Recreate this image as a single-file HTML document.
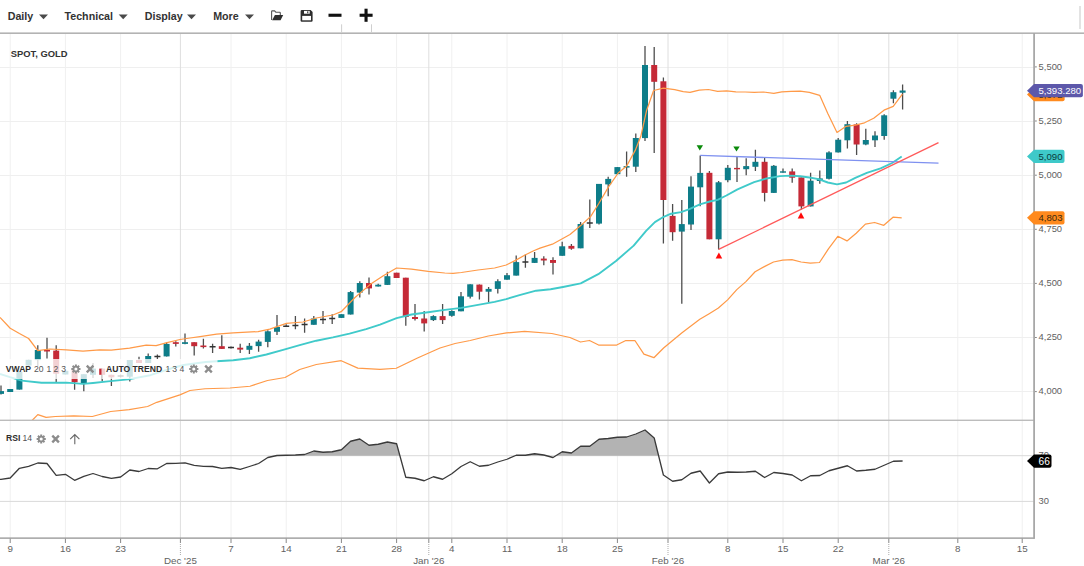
<!DOCTYPE html>
<html><head><meta charset="utf-8"><title>Spot Gold Chart</title>
<style>
html,body{margin:0;padding:0;background:#fff;width:1084px;height:566px;overflow:hidden}
svg{display:block}
</style></head><body>
<svg width="1084" height="566" viewBox="0 0 1084 566">
<defs><clipPath id="mainclip"><rect x="0" y="34" width="1033" height="386.3"/></clipPath></defs>
<g stroke="#efefef" stroke-width="1" fill="none">
<line x1="0" y1="67.5" x2="1034" y2="67.5"/>
<line x1="0" y1="121.5" x2="1034" y2="121.5"/>
<line x1="0" y1="175.5" x2="1034" y2="175.5"/>
<line x1="0" y1="229.5" x2="1034" y2="229.5"/>
<line x1="0" y1="283.5" x2="1034" y2="283.5"/>
<line x1="0" y1="337.5" x2="1034" y2="337.5"/>
<line x1="0" y1="391.5" x2="1034" y2="391.5"/>
</g>
<g stroke="#f0f0f0" stroke-width="1">
<line x1="10.2" y1="34" x2="10.2" y2="538"/>
<line x1="65.4" y1="34" x2="65.4" y2="538"/>
<line x1="120.6" y1="34" x2="120.6" y2="538"/>
<line x1="231" y1="34" x2="231" y2="538"/>
<line x1="286.2" y1="34" x2="286.2" y2="538"/>
<line x1="341.4" y1="34" x2="341.4" y2="538"/>
<line x1="396.6" y1="34" x2="396.6" y2="538"/>
<line x1="451.8" y1="34" x2="451.8" y2="538"/>
<line x1="507" y1="34" x2="507" y2="538"/>
<line x1="562.2" y1="34" x2="562.2" y2="538"/>
<line x1="617.4" y1="34" x2="617.4" y2="538"/>
<line x1="727.8" y1="34" x2="727.8" y2="538"/>
<line x1="783" y1="34" x2="783" y2="538"/>
<line x1="838.2" y1="34" x2="838.2" y2="538"/>
<line x1="957.8" y1="34" x2="957.8" y2="538"/>
<line x1="1022.2" y1="34" x2="1022.2" y2="538"/>
</g>
<g stroke="#dedede" stroke-width="1">
<line x1="180.4" y1="34" x2="180.4" y2="538"/>
<line x1="428.8" y1="34" x2="428.8" y2="538"/>
<line x1="668" y1="34" x2="668" y2="538"/>
<line x1="888.8" y1="34" x2="888.8" y2="538"/>
</g>
<g stroke="#d9d9d9" stroke-width="1">
<line x1="0" y1="455.7" x2="1034" y2="455.7"/>
<line x1="0" y1="501.4" x2="1034" y2="501.4"/>
</g>
<g clip-path="url(#mainclip)">
<path d="M1 385.6V394.6M10.2 389V392M19.4 371.8V389.6M28.6 359.8V365.5M37.8 345.3V366M47 337.7V358.6M56.2 345.3V381.9M65.4 370.8V374.5M74.6 370V389.8M83.8 374.2V391.3M93 363V378M102.2 368.6V381M111.4 374.8V386M120.6 374.5V377.5M129.8 360V381.6M139 356.7V363M148.2 353.6V363M157.4 354.6V358.9M166.6 342.2V356.4M175.8 341.2V346.4M185 333.4V344.3M194.2 342.2V355.5M203.4 338.7V348.6M212.6 343.7V353M221.8 335.2V348.9M231 346.5V348.5M240.2 343.7V353M249.4 343V353.9M258.6 339.8V351.7M267.8 330.2V347.2M277 315V335M286.2 324.2V326.5M295.4 315.9V329.2M304.6 318.6V332.7M313.8 316V324.8M323 311V324.1M332.2 314.2V324.1M341.4 314.2V317.9M350.6 291.1V314.5M359.8 281.2V297.4M369 277.4V294.6M378.2 283.7V286.5M387.4 271.8V284.9M396.6 272.7V278M405.8 277.7V325.8M415 304.1V320.5M424.2 311V331.6M433.4 315.2V321M442.6 304.1V324M451.8 310.2V316.7M461 292.1V311.3M470.2 284.3V298.6M479.4 284.6V299.6M488.6 287.1V302.1M497.8 279.3V293.6M507 273V279.7M516.2 255.4V275.6M525.4 254.4V267.8M534.6 252V262.9M543.8 256.2V265.3M553 257.2V274.6M562.2 241.7V255.8M571.4 244V249.7M580.6 221.9V248.3M589.8 199.4V228M599 183.9V224.5M608.2 176.8V196.3M617.4 167.1V174.2M626.6 151.6V176.8M635.8 133.5V172M645 46V140.9M654.2 47V153.1M663.4 77.4V243.4M672.6 204.1V240.7M681.8 200.1V303.7M691 176.2V230M700.2 155.5V206.3M709.4 171V239.3M718.6 180.9V249.5M727.8 165V182.3M737 156.9V181.9M746.2 158.3V175.3M755.4 149.8V171M764.6 157.9V201.4M773.8 165V193M783 168.6V172.7M792.2 168.6V182.7M801.4 177.4V209.5M810.6 172.8V206.4M819.8 170.4V183.8M829 151.3V179.5M838.2 137.9V152.4M847.4 120.9V148.4M856.6 123.3V155M865.8 128.7V145.3M875 131.2V147M884.2 114.3V139.7M893.4 90.3V103.2M902.6 84.6V109.6" stroke="#4d4d4d" stroke-width="1.3" fill="none"/>
<path d="M117.6 375.9h6M154.4 356.4h6M209.6 346.8h6M228 347.4h6M283.2 326.3h6M292.4 325.4h6M301.6 324.6h6M320 319.5h6M329.2 318.5h6M522.4 262.1h6M586.8 223h6" stroke="#333" stroke-width="1.5" fill="none"/>
<g fill="#0e7d89"><rect x="-2" y="391.1" width="6" height="2.8"/><rect x="7.2" y="389" width="6" height="3"/><rect x="16.4" y="371.8" width="6" height="17.8"/><rect x="25.6" y="359.8" width="6" height="5.7"/><rect x="34.8" y="350" width="6" height="10.1"/><rect x="62.4" y="370.8" width="6" height="3.7"/><rect x="80.8" y="374.2" width="6" height="8.8"/><rect x="90" y="368.6" width="6" height="6.2"/><rect x="126.8" y="360" width="6" height="16.7"/><rect x="145.2" y="356" width="6" height="7"/><rect x="163.6" y="343.9" width="6" height="12.5"/><rect x="182" y="342.2" width="6" height="1.7"/><rect x="246.4" y="345.8" width="6" height="4"/><rect x="255.6" y="341.6" width="6" height="4.5"/><rect x="264.8" y="331.3" width="6" height="10.6"/><rect x="274" y="327" width="6" height="4.8"/><rect x="310.8" y="318.5" width="6" height="6.3"/><rect x="338.4" y="314.2" width="6" height="3.7"/><rect x="347.6" y="292.1" width="6" height="22.4"/><rect x="356.8" y="283" width="6" height="9.6"/><rect x="375.2" y="284.7" width="6" height="1.8"/><rect x="384.4" y="276.2" width="6" height="8.7"/><rect x="430.4" y="316.1" width="6" height="4"/><rect x="448.8" y="311" width="6" height="4.8"/><rect x="458" y="296.3" width="6" height="15"/><rect x="467.2" y="284.3" width="6" height="12.4"/><rect x="485.6" y="288.9" width="6" height="2.8"/><rect x="494.8" y="281.2" width="6" height="7.7"/><rect x="504" y="275.2" width="6" height="4.5"/><rect x="513.2" y="262.1" width="6" height="13.5"/><rect x="531.6" y="257.9" width="6" height="5"/><rect x="559.2" y="246.3" width="6" height="9.5"/><rect x="577.6" y="224" width="6" height="24.3"/><rect x="596" y="183.9" width="6" height="39.7"/><rect x="605.2" y="178.9" width="6" height="5.5"/><rect x="614.4" y="167.1" width="6" height="7.1"/><rect x="623.6" y="166.1" width="6" height="1.5"/><rect x="632.8" y="138" width="6" height="28.7"/><rect x="642" y="65" width="6" height="73.1"/><rect x="678.8" y="224.1" width="6" height="7.5"/><rect x="688" y="186.6" width="6" height="37.9"/><rect x="697.2" y="172.9" width="6" height="14.4"/><rect x="715.6" y="182.3" width="6" height="57"/><rect x="724.8" y="167.8" width="6" height="12.4"/><rect x="743.2" y="166.1" width="6" height="3.1"/><rect x="752.4" y="161.8" width="6" height="5"/><rect x="770.8" y="165.8" width="6" height="27.1"/><rect x="780" y="171.3" width="6" height="1.4"/><rect x="807.6" y="180.7" width="6" height="25.7"/><rect x="816.8" y="178.4" width="6" height="2.6"/><rect x="826" y="152.4" width="6" height="26.4"/><rect x="835.2" y="139.7" width="6" height="12.7"/><rect x="844.4" y="124.2" width="6" height="16.1"/><rect x="862.8" y="140" width="6" height="4.5"/><rect x="872" y="135.5" width="6" height="4.8"/><rect x="881.2" y="115.3" width="6" height="20.7"/><rect x="890.4" y="92.2" width="6" height="6.5"/><rect x="899.6" y="90.5" width="6" height="2.2"/></g>
<g fill="#c52a37"><rect x="44" y="349.8" width="6" height="1.7"/><rect x="53.2" y="350.6" width="6" height="23.1"/><rect x="71.6" y="370" width="6" height="12.3"/><rect x="99.2" y="368.6" width="6" height="6.2"/><rect x="108.4" y="374.8" width="6" height="2.5"/><rect x="136" y="360" width="6" height="3"/><rect x="172.8" y="342.2" width="6" height="1.7"/><rect x="191.2" y="342.2" width="6" height="4"/><rect x="200.4" y="345.5" width="6" height="1.6"/><rect x="218.8" y="346.2" width="6" height="2.7"/><rect x="237.2" y="347.7" width="6" height="1.9"/><rect x="366" y="283" width="6" height="5.4"/><rect x="393.6" y="272.7" width="6" height="5.3"/><rect x="402.8" y="277.7" width="6" height="39.3"/><rect x="412" y="317" width="6" height="2"/><rect x="421.2" y="318.5" width="6" height="4.9"/><rect x="439.6" y="316.1" width="6" height="4"/><rect x="476.4" y="284.6" width="6" height="7.1"/><rect x="540.8" y="258.6" width="6" height="1.9"/><rect x="550" y="260" width="6" height="2.9"/><rect x="568.4" y="245.9" width="6" height="2.8"/><rect x="651.2" y="65" width="6" height="16.8"/><rect x="660.4" y="81.3" width="6" height="118.7"/><rect x="669.6" y="215.9" width="6" height="16.3"/><rect x="706.4" y="172.8" width="6" height="66.5"/><rect x="734" y="167.9" width="6" height="1.4"/><rect x="761.6" y="161.8" width="6" height="31.1"/><rect x="789.2" y="171.4" width="6" height="6.3"/><rect x="798.4" y="177.4" width="6" height="29"/><rect x="853.6" y="124.4" width="6" height="20.1"/></g>
<polyline points="0,317.4 10.2,328.2 19.4,333.5 28.6,338.5 37.8,350.7 49.8,349 66.4,349.8 83,351.2 99.7,349.8 111.3,350.2 129.6,348.2 146.2,345.2 156.1,345.7 166,342.9 180,339.5 190,338 200,336.6 216.6,334.1 233.2,332.9 258.1,331.6 269.8,329.1 286.4,323.3 303,322 316.3,318 332.9,315 341.2,311.7 355,297.5 370,284.6 383.3,275.8 396.6,268 411.5,269.2 428.1,271.3 444.8,273 453.1,273.3 461.4,272.5 478,270 494.6,268 506.2,265 515.5,260.4 524.6,255.3 533.7,250.8 540,248.1 552.4,244.2 570,234.5 580.7,225.6 590.4,216.8 598.5,204 608.4,187.1 618.2,173 626.7,165.9 635.2,150.4 640.8,136.3 646.5,110.8 653.6,90.5 663.4,88.2 674.7,89.7 683.2,91.6 690,92.3 699.2,90.2 708.4,89.5 717.6,91.4 726.7,90.9 735.9,91.8 745.1,92 754.3,92.3 763.5,92 773.8,93.4 781.8,91.8 791,91.4 800.2,91.1 809.4,92.3 819.7,95.3 827.8,113.6 837,132.5 846.1,126.3 855.3,125.1 864.5,122.8 873.7,118.2 884,110.2 893.2,106.3 902.4,94.1" fill="none" stroke="#ff9a48" stroke-width="1.25" stroke-linejoin="round"/>
<polyline points="28,426 32.3,420.2 37.8,414.6 46.1,417.4 55.4,416.5 73.8,415.8 92.3,416.5 110.7,411.5 129.2,409.7 147.6,406.5 156.8,402.3 179.9,394.9 190,390.5 205,388.75 230,388 250,386.25 267.5,380.5 285,377.5 299.7,369.5 316.3,364.5 341.2,360.7 357.8,368.1 380,369.3 396.25,368.25 417.5,358 440,348 455.1,343.5 470.2,340.5 488.3,336 506.5,332.9 524.6,331.4 551.8,333.5 569.9,337.5 580.5,342 589.5,340.5 598.6,345 616.7,345 625.8,340.5 634.9,340.5 643.9,354.1 653.9,357.7 663.6,348 681.7,332.9 699.8,319.3 709.2,313.7 718.4,308 727.6,299.9 736.8,289.6 745.9,281.6 755.1,271.7 764.3,266.6 773.5,262 782.7,260.2 791.9,259.7 801.1,262 810.3,263.2 819.5,262.5 828.6,248.7 837.8,236.3 847,240.9 856.2,233.3 865.4,224.1 874.6,222.5 883.8,225.3 893,217.2 901.7,217.9" fill="none" stroke="#ff9a48" stroke-width="1.25" stroke-linejoin="round"/>
<polyline points="0,373.9 10,377.2 21.6,380.6 41.5,382.7 66.4,382.6 83,383.9 93,383 108,381.4 128.2,379.4 150.4,375.2 172.5,368 183.6,365 205.7,362 216.6,361.2 233.2,360.2 249.8,358.2 266.4,354.5 283.1,349.9 299.7,345.2 316.3,340.7 332.9,337.4 349.5,333.6 366.1,329.1 380,324.6 396.6,318.2 411.5,314.5 428.1,312.3 444.8,309.9 461.4,307.9 478,304.9 494.6,301.9 506.2,299.1 519.5,295.2 536.1,290.7 550.6,289.3 563,287 580.7,283.4 598.3,274.2 616,261 633.7,245.6 646.1,230.9 654.9,222.1 663.7,216.8 671.1,213.7 681,212.1 688.8,209.3 699.9,204.3 709.8,201.5 717.6,199.9 726.4,195.5 737.5,189.4 754.1,182.2 765.2,178.8 780,176.1 791,175.6 800.2,176.3 809.4,177.5 818.6,179.1 827.8,182.5 837,184.4 846.1,182.5 855.3,177.9 866.8,172.9 880.6,168.3 892.1,163 901.7,156.5" fill="none" stroke="#40caca" stroke-width="1.9" stroke-linejoin="round"/>
<line x1="700.2" y1="155.4" x2="938.5" y2="163.2" stroke="#7f91f0" stroke-width="1.3"/>
<line x1="718.6" y1="249.4" x2="938.5" y2="142.6" stroke="#ff5a5a" stroke-width="1.3"/>
<g fill="#0a8a0a">
<path d="M696.6 145.3h6.4l-3.2 5.2z"/>
<path d="M733.3 146.4h6.4l-3.2 5.2z"/>
</g><g fill="#ff0a0a">
<path d="M715.6 258.6h6.6l-3.3 -6.2z"/>
<path d="M797.7 218.4h6.6l-3.3 -6.2z"/>
</g>
</g>
<rect x="0" y="359" width="98" height="20" fill="#fff" fill-opacity="0.78"/>
<rect x="101.5" y="359" width="116" height="20" fill="#fff" fill-opacity="0.78"/>
<g font-family="'Liberation Sans', Arial, sans-serif" font-size="8.6">
<text x="5.8" y="371.8" font-weight="bold" fill="#2e2e2e">VWAP</text>
<text x="34" y="371.8" fill="#555">20</text><text x="46.6" y="371.8" fill="#555">1</text><text x="53.6" y="371.8" fill="#555">2</text><text x="61.2" y="371.8" fill="#555">3</text>
<text x="106" y="371.8" font-weight="bold" fill="#2e2e2e">AUTO TREND</text>
<text x="165.4" y="371.8" fill="#555">1</text><text x="172.2" y="371.8" fill="#555">3</text><text x="179.6" y="371.8" fill="#555">4</text>
</g>
<path d="M74.97 365.65 L74.89 364.41 L76.91 364.41 L76.83 365.65 L77.61 365.97 L78.43 365.04 L79.86 366.47 L78.93 367.29 L79.25 368.07 L80.49 367.99 L80.49 370.01 L79.25 369.93 L78.93 370.71 L79.86 371.53 L78.43 372.96 L77.61 372.03 L76.83 372.35 L76.91 373.59 L74.89 373.59 L74.97 372.35 L74.19 372.03 L73.37 372.96 L71.94 371.53 L72.87 370.71 L72.55 369.93 L71.31 370.01 L71.31 367.99 L72.55 368.07 L72.87 367.29 L71.94 366.47 L73.37 365.04 L74.19 365.97Z" fill="#8c8c8c"/><circle cx="75.9" cy="369" r="1.55" fill="#fff"/>
<path d="M86.8 365.7L93.4 372.3M93.4 365.7L86.8 372.3" stroke="#8c8c8c" stroke-width="2.4" fill="none"/>
<path d="M192.87 365.65 L192.79 364.41 L194.81 364.41 L194.73 365.65 L195.51 365.97 L196.33 365.04 L197.76 366.47 L196.83 367.29 L197.15 368.07 L198.39 367.99 L198.39 370.01 L197.15 369.93 L196.83 370.71 L197.76 371.53 L196.33 372.96 L195.51 372.03 L194.73 372.35 L194.81 373.59 L192.79 373.59 L192.87 372.35 L192.09 372.03 L191.27 372.96 L189.84 371.53 L190.77 370.71 L190.45 369.93 L189.21 370.01 L189.21 367.99 L190.45 368.07 L190.77 367.29 L189.84 366.47 L191.27 365.04 L192.09 365.97Z" fill="#8c8c8c"/><circle cx="193.8" cy="369" r="1.55" fill="#fff"/>
<path d="M205.2 365.7L211.8 372.3M211.8 365.7L205.2 372.3" stroke="#8c8c8c" stroke-width="2.4" fill="none"/>
<polygon points="276.08,455.7 277,455.5 286.2,455.25 295.4,455 304.6,454.5 313.8,451 323,452.25 332.2,451.75 341.4,449.75 350.6,441.25 359.8,439 369,445.25 378.2,444.25 387.4,442 396.6,443.75 399.88,455.7" fill="#b3b3b3"/>
<polygon points="515.16,455.7 516.2,455.25 525.4,455.25 534.6,453.75 543.8,455 546.38,455.7" fill="#b3b3b3"/>
<polygon points="555.88,455.7 562.2,451.75 571.4,453 580.6,446.25 589.8,446.25 599,439.25 608.2,438.5 617.4,437.25 626.6,437 635.8,434 645,430 654.2,438 658.6,455.7" fill="#b3b3b3"/>
<polyline points="-8.2,480.5 1,479.3 10.2,478 19.4,468.3 28.6,466.3 37.8,463 47,463.5 56.2,475.3 65.4,474.3 74.6,480.3 83.8,476.3 93,473.5 102.2,476.5 111.4,478.3 120.6,477 129.8,470 139,471.5 148.2,468.5 157.4,468.8 166.6,463.5 175.8,463.3 185,462.8 194.2,465.3 203.4,466.3 212.6,466.5 221.8,468.3 231,467.5 240.2,469.3 249.4,466.5 258.6,463.5 267.8,457.5 277,455.5 286.2,455.25 295.4,455 304.6,454.5 313.8,451 323,452.25 332.2,451.75 341.4,449.75 350.6,441.25 359.8,439 369,445.25 378.2,444.25 387.4,442 396.6,443.75 405.8,477.25 415,478.25 424.2,480.75 433.4,476.75 442.6,479.25 451.8,473.75 461,466.5 470.2,461.75 479.4,466.25 488.6,465.25 497.8,462 507,459.25 516.2,455.25 525.4,455.25 534.6,453.75 543.8,455 553,457.5 562.2,451.75 571.4,453 580.6,446.25 589.8,446.25 599,439.25 608.2,438.5 617.4,437.25 626.6,437 635.8,434 645,430 654.2,438 663.4,475 672.6,481.25 681.8,479.75 691,473.25 700.2,471 709.4,483 718.6,473.75 727.8,472 737,472.25 746.2,472 755.4,471.25 764.6,477.5 773.8,472.5 783,473.5 792.2,475 801.4,480.75 810.6,475.75 819.8,475.5 829,470.75 838.2,468.25 847.4,465.75 856.6,471 865.8,470.25 875,469.25 884.2,465.25 893.4,461.25 902.6,461" fill="none" stroke="#3a3a3a" stroke-width="1.3" stroke-linejoin="round"/>
<g font-family="'Liberation Sans', Arial, sans-serif" font-size="8.6">
<text x="6" y="441.4" font-weight="bold" fill="#2e2e2e">RSI</text><text x="22.4" y="441.4" fill="#555">14</text>
</g>
<path d="M40.27 435.65 L40.19 434.41 L42.21 434.41 L42.13 435.65 L42.91 435.97 L43.73 435.04 L45.16 436.47 L44.23 437.29 L44.55 438.07 L45.79 437.99 L45.79 440.01 L44.55 439.93 L44.23 440.71 L45.16 441.53 L43.73 442.96 L42.91 442.03 L42.13 442.35 L42.21 443.59 L40.19 443.59 L40.27 442.35 L39.49 442.03 L38.67 442.96 L37.24 441.53 L38.17 440.71 L37.85 439.93 L36.61 440.01 L36.61 437.99 L37.85 438.07 L38.17 437.29 L37.24 436.47 L38.67 435.04 L39.49 435.97Z" fill="#8c8c8c"/><circle cx="41.2" cy="439" r="1.55" fill="#fff"/>
<path d="M52.3 435.7L58.9 442.3M58.9 435.7L52.3 442.3" stroke="#8c8c8c" stroke-width="2.4" fill="none"/>
<path d="M74.8 444.2V434.6M70.2 439.2L74.8 434.6L79.4 439.2" stroke="#666" stroke-width="1.1" fill="none"/>
<rect x="0" y="32.4" width="1084" height="1.6" fill="#b3b3b3"/>
<rect x="0" y="419.6" width="1034" height="1.4" fill="#bcbcbc"/>
<rect x="0" y="537.5" width="1034" height="1.2" fill="#8c8c8c"/>
<rect x="1033.2" y="33" width="1.8" height="505.9" fill="#a8a8a8"/>
<rect x="1079" y="6" width="2" height="23" fill="#e3e3e3"/>
<rect x="341.1" y="24.3" width="1" height="8.5" fill="#cfcfcf"/><rect x="371" y="24.3" width="1" height="8.5" fill="#cfcfcf"/>
<g font-family="'Liberation Sans', Arial, sans-serif" font-size="9.4" fill="#606060">
<rect x="1035" y="66.4" width="1.8" height="1" fill="#888"/>
<text x="1038.6" y="69.6">5,500</text>
<rect x="1035" y="120.5" width="1.8" height="1" fill="#888"/>
<text x="1038.6" y="123.7">5,250</text>
<rect x="1035" y="174.7" width="1.8" height="1" fill="#888"/>
<text x="1038.6" y="177.9">5,000</text>
<rect x="1035" y="228.8" width="1.8" height="1" fill="#888"/>
<text x="1038.6" y="232">4,750</text>
<rect x="1035" y="282.9" width="1.8" height="1" fill="#888"/>
<text x="1038.6" y="286.1">4,500</text>
<rect x="1035" y="337" width="1.8" height="1" fill="#888"/>
<text x="1038.6" y="340.2">4,250</text>
<rect x="1035" y="391.1" width="1.8" height="1" fill="#888"/>
<text x="1038.6" y="394.3">4,000</text>
<text x="1038.6" y="504.3">30</text>
<text x="1038.6" y="458.2">70</text>
</g>
<g fill="#888">
<rect x="9.7" y="538.6" width="1" height="4.4"/>
<rect x="64.9" y="538.6" width="1" height="4.4"/>
<rect x="120.1" y="538.6" width="1" height="4.4"/>
<rect x="230.5" y="538.6" width="1" height="4.4"/>
<rect x="285.7" y="538.6" width="1" height="4.4"/>
<rect x="340.9" y="538.6" width="1" height="4.4"/>
<rect x="396.1" y="538.6" width="1" height="4.4"/>
<rect x="451.3" y="538.6" width="1" height="4.4"/>
<rect x="506.5" y="538.6" width="1" height="4.4"/>
<rect x="561.7" y="538.6" width="1" height="4.4"/>
<rect x="616.9" y="538.6" width="1" height="4.4"/>
<rect x="727.3" y="538.6" width="1" height="4.4"/>
<rect x="782.5" y="538.6" width="1" height="4.4"/>
<rect x="837.7" y="538.6" width="1" height="4.4"/>
<rect x="957.3" y="538.6" width="1" height="4.4"/>
<rect x="1021.7" y="538.6" width="1" height="4.4"/>
<rect x="179.9" y="538.6" width="1" height="4.4"/>
<rect x="179.9" y="544" width="1" height="1" fill="#aaa"/>
<rect x="179.9" y="546" width="1" height="1" fill="#aaa"/>
<rect x="179.9" y="548" width="1" height="1" fill="#aaa"/>
<rect x="179.9" y="550" width="1" height="1" fill="#aaa"/>
<rect x="179.9" y="552" width="1" height="1" fill="#aaa"/>
<rect x="179.9" y="554" width="1" height="1" fill="#aaa"/>
<rect x="428.3" y="538.6" width="1" height="4.4"/>
<rect x="428.3" y="544" width="1" height="1" fill="#aaa"/>
<rect x="428.3" y="546" width="1" height="1" fill="#aaa"/>
<rect x="428.3" y="548" width="1" height="1" fill="#aaa"/>
<rect x="428.3" y="550" width="1" height="1" fill="#aaa"/>
<rect x="428.3" y="552" width="1" height="1" fill="#aaa"/>
<rect x="428.3" y="554" width="1" height="1" fill="#aaa"/>
<rect x="667.5" y="538.6" width="1" height="4.4"/>
<rect x="667.5" y="544" width="1" height="1" fill="#aaa"/>
<rect x="667.5" y="546" width="1" height="1" fill="#aaa"/>
<rect x="667.5" y="548" width="1" height="1" fill="#aaa"/>
<rect x="667.5" y="550" width="1" height="1" fill="#aaa"/>
<rect x="667.5" y="552" width="1" height="1" fill="#aaa"/>
<rect x="667.5" y="554" width="1" height="1" fill="#aaa"/>
<rect x="888.3" y="538.6" width="1" height="4.4"/>
<rect x="888.3" y="544" width="1" height="1" fill="#aaa"/>
<rect x="888.3" y="546" width="1" height="1" fill="#aaa"/>
<rect x="888.3" y="548" width="1" height="1" fill="#aaa"/>
<rect x="888.3" y="550" width="1" height="1" fill="#aaa"/>
<rect x="888.3" y="552" width="1" height="1" fill="#aaa"/>
<rect x="888.3" y="554" width="1" height="1" fill="#aaa"/>
</g>
<g font-family="'Liberation Sans', Arial, sans-serif" font-size="9.8" fill="#626262" text-anchor="middle">
<text x="10.2" y="551.9">9</text>
<text x="65.4" y="551.9">16</text>
<text x="120.6" y="551.9">23</text>
<text x="231" y="551.9">7</text>
<text x="286.2" y="551.9">14</text>
<text x="341.4" y="551.9">21</text>
<text x="396.6" y="551.9">28</text>
<text x="451.8" y="551.9">4</text>
<text x="507" y="551.9">11</text>
<text x="562.2" y="551.9">18</text>
<text x="617.4" y="551.9">25</text>
<text x="727.8" y="551.9">8</text>
<text x="783" y="551.9">15</text>
<text x="838.2" y="551.9">22</text>
<text x="957.8" y="551.9">8</text>
<text x="1022.2" y="551.9">15</text>
<text x="180.4" y="563.8">Dec '25</text>
<text x="428.8" y="563.8">Jan '26</text>
<text x="668" y="563.8">Feb '26</text>
<text x="888.8" y="563.8">Mar '26</text>
</g>
<path d="M1027 94.5L1034 87.85H1062.6Q1064.6 87.85 1064.6 89.85V99.15Q1064.6 101.15 1062.6 101.15H1034Z" fill="#ff8a1e"/><text x="1038.5" y="97.9" font-family="'Liberation Sans', Arial, sans-serif" font-size="9.6" fill="#3a2a10">5,372</text>
<path d="M1027 90.7L1034 84.05H1080.9Q1082.9 84.05 1082.9 86.05V95.35Q1082.9 97.35 1080.9 97.35H1034Z" fill="#5d58aa"/><text x="1038.5" y="94.1" font-family="'Liberation Sans', Arial, sans-serif" font-size="9.6" fill="#ffffff">5,393.280</text>
<path d="M1027 156.4L1034 149.75H1062.5Q1064.5 149.75 1064.5 151.75V161.05Q1064.5 163.05 1062.5 163.05H1034Z" fill="#3ec9c9"/><text x="1038.5" y="159.8" font-family="'Liberation Sans', Arial, sans-serif" font-size="9.6" fill="#0b3b3b">5,090</text>
<path d="M1027 217.8L1034 211.15H1062.5Q1064.5 211.15 1064.5 213.15V222.45Q1064.5 224.45 1062.5 224.45H1034Z" fill="#ff8a1e"/><text x="1038.5" y="221.2" font-family="'Liberation Sans', Arial, sans-serif" font-size="9.6" fill="#3a2a10">4,803</text>
<path d="M1027 461.1L1034 454.45H1049.5Q1051.5 454.45 1051.5 456.45V465.75Q1051.5 467.75 1049.5 467.75H1034Z" fill="#000000"/><text x="1038.5" y="464.5" font-family="'Liberation Sans', Arial, sans-serif" font-size="10.2" fill="#ffffff">66</text>
<g font-family="'Liberation Sans', Arial, sans-serif" font-size="10.7" font-weight="bold" fill="#333">
<text x="7.7" y="19.9">Daily</text><text x="64.5" y="19.9">Technical</text><text x="144.7" y="19.9">Display</text><text x="213.2" y="19.9">More</text>
</g>
<g fill="#4a4a4a">
<path d="M39 14.6h9l-4.5 4.6z"/>
<path d="M118.7 14.6h9l-4.5 4.6z"/>
<path d="M187 14.6h9l-4.5 4.6z"/>
<path d="M245 14.6h9l-4.5 4.6z"/>
</g>
<path d="M271.6 20V11.6Q271.6 10.9 272.3 10.9H274.6L275.8 12.2H279.6Q280.3 12.2 280.3 12.9V15" fill="none" stroke="#555" stroke-width="1.1"/>
<path d="M272.1 20.3L274.9 15H283.2L280.6 20.3Z" fill="#2e2e2e"/>
<path d="M301.9 9.9H310.6L312.6 11.9V20.6Q312.6 21.8 311.4 21.8H301.8Q300.6 21.8 300.6 20.6V11.1Q300.6 9.9 301.9 9.9Z" fill="#2e2e2e"/>
<rect x="304" y="10.9" width="5.7" height="2.8" fill="#fff"/><rect x="307.2" y="11.3" width="1.1" height="2" fill="#2e2e2e"/>
<rect x="302.2" y="15.9" width="8.8" height="4.4" fill="#fff"/>
<rect x="328.5" y="13.7" width="13" height="3.1" fill="#111"/>
<rect x="359.6" y="13.7" width="13" height="3.1" fill="#111"/><rect x="364.5" y="8.7" width="3.1" height="13.1" fill="#111"/>
<text x="10.8" y="57" font-family="'Liberation Sans', Arial, sans-serif" font-size="9.4" font-weight="bold" fill="#333">SPOT, GOLD</text>
</svg>
</body></html>
